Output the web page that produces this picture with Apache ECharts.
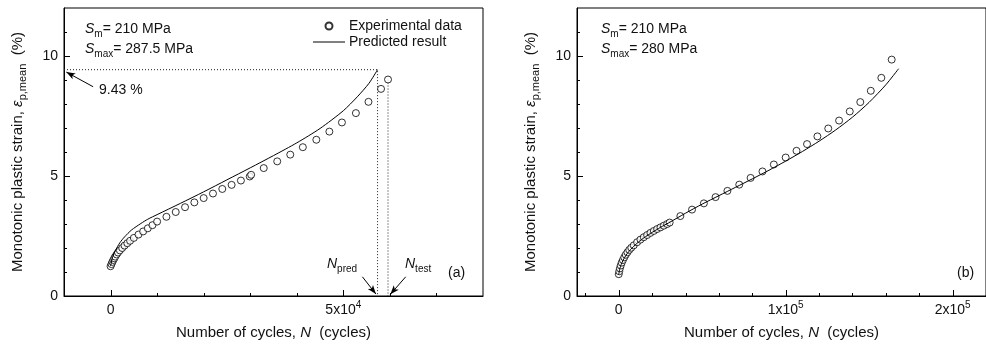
<!DOCTYPE html>
<html>
<head>
<meta charset="utf-8">
<script src="https://cdn.jsdelivr.net/npm/echarts@6/dist/echarts.min.js"></script>
<style>
html,body{margin:0;padding:0;background:#fff;}
#chart{width:986px;height:348px;}
</style>
</head>
<body>
<div id="chart"></div>
<script>
// ---------- Data ----------
// Panel (a): Sm = 210 MPa, Smax = 287.5 MPa
const expA_N = [0, 200, 400, 600, 800, 1000, 1300, 1600, 2000, 2500, 3000, 3600, 4200, 5000, 6000, 7000, 8000, 9000, 10000, 12000, 14000, 16000, 18000, 20000, 22000, 24000, 26000, 28000, 29900, 30200, 32900, 35800, 38600, 41300, 44200, 47000, 49700, 52700, 55400, 58100, 59600];
const expA_eps = [1.24, 1.33, 1.42, 1.50, 1.57, 1.64, 1.73, 1.81, 1.90, 2.00, 2.10, 2.20, 2.30, 2.42, 2.56, 2.69, 2.82, 2.95, 3.10, 3.30, 3.50, 3.70, 3.90, 4.08, 4.27, 4.46, 4.63, 4.81, 4.98, 5.05, 5.33, 5.61, 5.89, 6.20, 6.51, 6.85, 7.23, 7.62, 8.09, 8.63, 9.02];
const predA_N = [0, 500, 1000, 2000, 3000, 4500, 6500, 8000, 10000, 15000, 20000, 25000, 30000, 35000, 40000, 45000, 50000, 53000, 55500, 57350];
const predA_eps = [1.25, 1.66, 1.88, 2.22, 2.46, 2.75, 3.02, 3.20, 3.39, 3.86, 4.34, 4.84, 5.34, 5.85, 6.38, 6.98, 7.72, 8.30, 8.86, 9.43];

// Panel (b): Sm = 210 MPa, Smax = 280 MPa
const expB_N = [0, 300, 700, 1200, 1800, 2500, 3300, 4200, 5200, 6300, 7500, 9000, 11000, 13000, 15000, 17000, 19000, 21000, 23000, 25000, 27000, 29000, 30500, 36900, 43900, 51000, 58000, 65100, 72200, 79000, 86100, 92900, 100000, 106500, 112800, 119000, 125500, 132000, 138400, 144700, 151000, 157300, 163500];
const expB_eps = [0.91, 1.03, 1.15, 1.27, 1.39, 1.50, 1.61, 1.72, 1.82, 1.92, 2.01, 2.11, 2.24, 2.35, 2.45, 2.54, 2.63, 2.71, 2.79, 2.86, 2.93, 3.00, 3.06, 3.33, 3.60, 3.86, 4.12, 4.38, 4.64, 4.92, 5.19, 5.48, 5.77, 6.05, 6.33, 6.65, 6.98, 7.31, 7.69, 8.08, 8.55, 9.09, 9.85];
const predB_N = [0, 500, 1000, 2000, 3500, 5000, 7000, 9000, 12000, 15000, 20000, 25000, 30000, 40000, 50000, 60000, 70000, 80000, 90000, 100000, 110000, 120000, 130000, 140000, 150000, 160000, 167650];
const predB_eps = [0.90, 1.10, 1.22, 1.40, 1.60, 1.76, 1.93, 2.07, 2.26, 2.42, 2.65, 2.86, 3.05, 3.45, 3.83, 4.18, 4.53, 4.88, 5.24, 5.62, 6.02, 6.45, 6.92, 7.45, 8.07, 8.80, 9.47];

// Ticks / labels
const xMinorA = [-10000, 10000, 20000, 30000, 40000, 60000, 70000];
const xMajorA = [0, 50000];
const xLabelsA = [0, 50000];
const xMinorB = [-20000, 20000, 40000, 60000, 80000, 120000, 140000, 160000, 180000];
const xMajorB = [0, 100000, 200000];
const xLabelsB = [0, 100000, 200000];
const yMinor = [1, 2, 3, 4, 6, 7, 8, 9, 11];
const yMajor = [5, 10];
const yLabels = [0, 5, 10];

const seriesNames = ['Experimental data', 'Predicted result'];

// ---------- Helpers ----------
const FONT = '"Liberation Sans", Arial, Helvetica, sans-serif';
const INK = '#111';
const MINOR_LEN = 3, MAJOR_LEN = 6;
function richSet(size) {
  return {
    n: {fontFamily: FONT, fontSize: size, lineHeight: 20, color: INK},
    i: {fontFamily: FONT, fontSize: size, lineHeight: 20, fontStyle: 'italic', color: INK},
    sub: {fontFamily: FONT, fontSize: size - 4, lineHeight: 10, verticalAlign: 'bottom', color: INK},
    sup: {fontFamily: FONT, fontSize: size - 4, lineHeight: 10, verticalAlign: 'top', color: INK}
  };
}
function gRich(size) {
  const r = richSet(size);
  Object.keys(r).forEach(k => { r[k].fill = INK; });
  return r;
}
function sciLabel(v) {
  if (v === 0) return '{n|0}';
  const e = Math.floor(Math.log10(Math.abs(v)) + 1e-9);
  const m = Math.round(v / Math.pow(10, e));
  return '{n|' + m + 'x10}{sup|' + e + '}';
}
function zip(a, b) { return a.map((v, i) => [v, b[i]]); }
function ls() { return {color: '#000', width: 1}; }
function nameStyle() { return {fontFamily: FONT, fontSize: 15, color: INK, lineHeight: 20, rich: richSet(15)}; }

function xAxis(gi, min, max, labels) {
  return {
    gridIndex: gi, type: 'value', min: min, max: max, position: 'bottom',
    axisLine: {show: true, onZero: false, lineStyle: ls()},
    axisTick: {show: false},
    axisLabel: {customValues: labels, margin: 4, formatter: sciLabel, rich: richSet(14)},
    splitLine: {show: false},
    name: '{n|Number of cycles, }{i|N}{n|  (cycles)}',
    nameLocation: 'middle', nameGap: 27,
    nameTextStyle: nameStyle()
  };
}
function yAxis(gi) {
  return {
    gridIndex: gi, type: 'value', min: 0, max: 12, position: 'left',
    axisLine: {show: true, onZero: false, lineStyle: ls()},
    axisTick: {show: false},
    axisLabel: {customValues: yLabels, margin: 6, formatter: v => '{n|' + v + '}', rich: richSet(14)},
    splitLine: {show: false},
    name: '{n|Monotonic plastic strain, }{i|ε}{sub|p,mean}{n|  (%)}',
    nameLocation: 'middle', nameRotate: 90, nameGap: 36,
    nameTextStyle: nameStyle()
  };
}

// Inward tick marks, placed through the axes' own scales (api.coord)
function tickData(minor, major) {
  return minor.map(v => [v, MINOR_LEN]).concat(major.map(v => [v, MAJOR_LEN]));
}
function xTickSeries(gi, minor, major) {
  return {
    type: 'custom', xAxisIndex: gi, yAxisIndex: gi, silent: true, z: 5, clip: false,
    data: tickData(minor, major),
    renderItem: function (params, api) {
      const p = api.coord([api.value(0), 0]);
      const x = Math.round(p[0]) + 0.5;
      return {type: 'line', shape: {x1: x, y1: p[1], x2: x, y2: p[1] - api.value(1)},
              style: {stroke: '#000', lineWidth: 1}};
    }
  };
}
function yTickSeries(gi, xMin, minor, major) {
  return {
    type: 'custom', xAxisIndex: gi, yAxisIndex: gi, silent: true, z: 5, clip: false,
    data: tickData(minor, major).map(d => [xMin, d[0], d[1]]),
    encode: {x: 0, y: 1},
    renderItem: function (params, api) {
      const p = api.coord([api.value(0), api.value(1)]);
      const y = Math.round(p[1]) + 0.5;
      return {type: 'line', shape: {x1: p[0], y1: y, x2: p[0] + api.value(2), y2: y},
              style: {stroke: '#000', lineWidth: 1}};
    }
  };
}

const scatterStyle = {color: '#fff', borderColor: '#000', borderWidth: 1};
const guideStyle = {color: '#222', width: 1, type: [1, 2]};

const nPred = predA_N[predA_N.length - 1];
const epsPred = predA_eps[predA_eps.length - 1];
const nTest = expA_N[expA_N.length - 1];
const epsTest = expA_eps[expA_eps.length - 1];

function arrow(from, to) {
  return [{coord: from, symbol: 'none'}, {coord: to, symbol: 'arrow', symbolSize: [5, 9]}];
}

const chart = echarts.init(document.getElementById('chart'));
chart.setOption({
  animation: false,
  backgroundColor: '#fff',
  grid: [
    {left: 64, top: 8, width: 419, height: 291, show: true, borderColor: '#000', borderWidth: 1},
    {left: 577, top: 8, width: 416, height: 291, show: true, borderColor: '#000', borderWidth: 1}
  ],
  xAxis: [xAxis(0, -10000, 80000, xLabelsA), xAxis(1, -25000, 220000, xLabelsB)],
  yAxis: [yAxis(0), yAxis(1)],
  legend: {
    data: [
      {name: seriesNames[0], icon: 'circle'},
      {name: seriesNames[1], icon: 'path://M0,0L32,0L32,1L0,1Z'}
    ],
    orient: 'vertical', left: 313, top: 19,
    itemWidth: 32, itemHeight: 7, itemGap: 2, padding: 0, symbolKeepAspect: true,
    textStyle: {fontFamily: FONT, fontSize: 14, lineHeight: 14, color: INK, padding: [0, 0, 0, -1]}
  },
  series: [
    {name: seriesNames[0], type: 'scatter', xAxisIndex: 0, yAxisIndex: 0, data: zip(expA_N, expA_eps),
     symbol: 'circle', symbolSize: 7, itemStyle: scatterStyle, z: 2},
    {name: seriesNames[1], type: 'line', xAxisIndex: 0, yAxisIndex: 0, data: zip(predA_N, predA_eps),
     symbol: 'none', showSymbol: false, smooth: 0.25, lineStyle: {color: '#000', width: 1}, itemStyle: {color: '#000'}, z: 3},
    {name: 'guide1', type: 'line', xAxisIndex: 0, yAxisIndex: 0,
     data: [[-10000, epsPred], [nPred, epsPred], [nPred, 0]],
     symbol: 'none', lineStyle: guideStyle, z: 1,
     markLine: {
       silent: true, symbol: ['none', 'arrow'], symbolSize: 9,
       lineStyle: {color: '#000', width: 1, type: 'solid'}, itemStyle: {color: '#000'}, label: {show: false},
       data: [
         arrow([-3750, 8.72], [-9500, 9.33]),
         arrow([54100, 0.80], [57000, 0.08]),
         arrow([63400, 0.80], [60100, 0.07])
       ]
     }},
    {name: 'guide2', type: 'line', xAxisIndex: 0, yAxisIndex: 0,
     data: [[nTest, epsTest], [nTest, 0]],
     symbol: 'none', lineStyle: guideStyle, z: 1},
    {name: 'Experimental data (b)', type: 'scatter', xAxisIndex: 1, yAxisIndex: 1, data: zip(expB_N, expB_eps),
     symbol: 'circle', symbolSize: 7, itemStyle: scatterStyle, z: 2},
    {name: 'Predicted result (b)', type: 'line', xAxisIndex: 1, yAxisIndex: 1, data: zip(predB_N, predB_eps),
     symbol: 'none', showSymbol: false, smooth: 0.25, lineStyle: {color: '#000', width: 1}, z: 3},
    xTickSeries(0, xMinorA, xMajorA),
    xTickSeries(1, xMinorB, xMajorB),
    yTickSeries(0, -10000, yMinor, yMajor),
    yTickSeries(1, -25000, yMinor, yMajor)
  ],
  graphic: [
    {type: 'text', left: 85, top: 22, style: {text: '{i|S}{sub|m}{n|= 210 MPa}\n{i|S}{sub|max}{n|= 287.5 MPa}', rich: gRich(14), fill: INK}},
    {type: 'text', left: 601, top: 22, style: {text: '{i|S}{sub|m}{n|= 210 MPa}\n{i|S}{sub|max}{n|= 280 MPa}', rich: gRich(14), fill: INK}},
    {type: 'text', left: 99, top: 83, style: {text: '{n|9.43 %}', rich: gRich(14), fill: INK}},
    {type: 'text', left: 327, top: 257, style: {text: '{i|N}{sub|pred}', rich: gRich(14), fill: INK}},
    {type: 'text', left: 405, top: 257, style: {text: '{i|N}{sub|test}', rich: gRich(14), fill: INK}},
    {type: 'text', left: 448, top: 266, style: {text: '{n|(a)}', rich: gRich(14), fill: INK}},
    {type: 'text', left: 957, top: 266, style: {text: '{n|(b)}', rich: gRich(14), fill: INK}}
  ]
});
</script>
</body>
</html>
